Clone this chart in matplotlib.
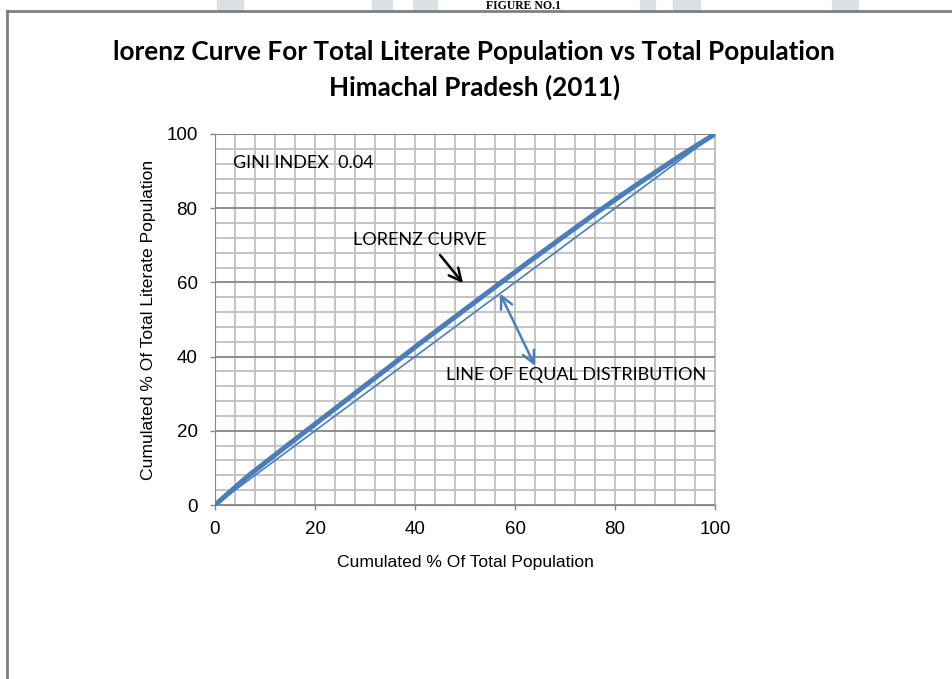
import numpy as np
import matplotlib.pyplot as plt
from matplotlib.patches import Rectangle
from matplotlib.lines import Line2D
from matplotlib.ticker import MultipleLocator

# cumulative shares (sorted districts)
cum_population = [0, 6.6, 14.2, 36.2, 41.8, 50.2, 62.1, 76.6, 77.9, 84.3, 92.0, 92.4, 100]
cum_literate = [0, 7.8, 15.8, 38.6, 44.4, 52.9, 64.9, 79.1, 80.3, 86.3, 93.2, 93.6, 100]
equal_line = [0, 100]
gini_index = 0.04
major_ticks = [0, 20, 40, 60, 80, 100]

BLUE = '#4A7EBB'
W, H = 952, 679

fig = plt.figure(figsize=(W / 100, H / 100), dpi=100)

# page decorations: watermark bits, figure caption, frame
for x0, x1 in [(217, 243), (372, 392), (413, 437), (640, 655), (673, 700), (832, 858)]:
    fig.patches.append(Rectangle((x0 / W, 1 - 11 / H), (x1 - x0) / W, 11 / H,
                                 transform=fig.transFigure, color='#D9E1E6', zorder=0))
fig.text(523 / W, 1 - 9 / H, 'FIGURE NO.1', ha='center', va='baseline',
         family='Liberation Serif', weight='bold', fontsize=8.5)
fig.add_artist(Line2D([7 / W, 7 / W], [0, 1 - 11 / H], transform=fig.transFigure,
                      color='#7F7F7F', lw=2))
fig.add_artist(Line2D([7 / W, 1], [1 - 11 / H, 1 - 11 / H], transform=fig.transFigure,
                      color='#7F7F7F', lw=2))

# title
fig.text(474 / W, 1 - 52 / H, 'lorenz Curve For Total Literate Population vs Total Population',
         ha='center', va='center', family='Lato', weight='bold', fontsize=18.8)
fig.text(475 / W, 1 - 87 / H, 'Himachal Pradesh (2011)',
         ha='center', va='center', family='Lato', weight='bold', fontsize=18.8)

ax = fig.add_axes([215 / W, 174 / H, 500 / W, 371 / H])
ax.plot(equal_line, equal_line, color=BLUE, lw=1.2, zorder=3)
ax.plot(cum_population, cum_literate, color=BLUE, lw=3.6, zorder=4,
        solid_joinstyle='round', solid_capstyle='round')

ax.set_xlim(0, 100)
ax.set_ylim(0, 100)
ax.set_xticks(major_ticks)
ax.set_yticks(major_ticks)
ax.xaxis.set_minor_locator(MultipleLocator(4))
ax.yaxis.set_minor_locator(MultipleLocator(4))
ax.grid(which='minor', color='#BFBFBF', lw=1.3)
ax.grid(which='major', axis='x', color='#BFBFBF', lw=1.3)
ax.grid(which='major', axis='y', color='#868686', lw=1.3)
ax.set_axisbelow(True)
ax.tick_params(which='minor', length=0)
ax.tick_params(which='major', length=3.6, width=1, color='#868686', labelsize=13.5)
ax.tick_params(axis='x', pad=8)
ax.tick_params(axis='y', pad=9)
for lab in ax.get_xticklabels() + ax.get_yticklabels():
    lab.set_family('Liberation Sans')
ax.spines['left'].set_color('#868686')
ax.spines['bottom'].set_color('#868686')
ax.spines['top'].set_color('#868686')
ax.spines['right'].set_color('#BFBFBF')

ax.set_xlabel('Cumulated % Of Total Population', family='Liberation Sans', fontsize=12.6,
              va='center')
ax.set_ylabel('Cumulated % Of Total Literate Population', family='Liberation Sans',
              fontsize=12.6, va='center')
ax.xaxis.set_label_coords(0.5, (505 - 563) / 371)
ax.yaxis.set_label_coords((148 - 215) / 500, 0.5)

# annotations
ax.text(3.6, 92.2, 'GINI INDEX  {:.2f}'.format(gini_index), family='Lato', fontsize=13,
        va='center', ha='left')
ax.text(27.6, 71.4, 'LORENZ CURVE', family='Lato', fontsize=13, va='center', ha='left')
ax.text(46.2, 35.0, 'LINE OF EQUAL DISTRIBUTION', family='Lato', fontsize=13,
        va='center', ha='left')
ax.annotate('', xy=(49.6, 59.8), xytext=(45, 67.4),
            arrowprops=dict(arrowstyle='->', lw=1.8, color='black', mutation_scale=22,
                            shrinkA=0, shrinkB=0))
ax.annotate('', xy=(57, 57.0), xytext=(64, 37.5),
            arrowprops=dict(arrowstyle='<->', lw=1.8, color=BLUE, mutation_scale=22,
                            shrinkA=0, shrinkB=0))

fig.savefig('out.png', dpi=100)
